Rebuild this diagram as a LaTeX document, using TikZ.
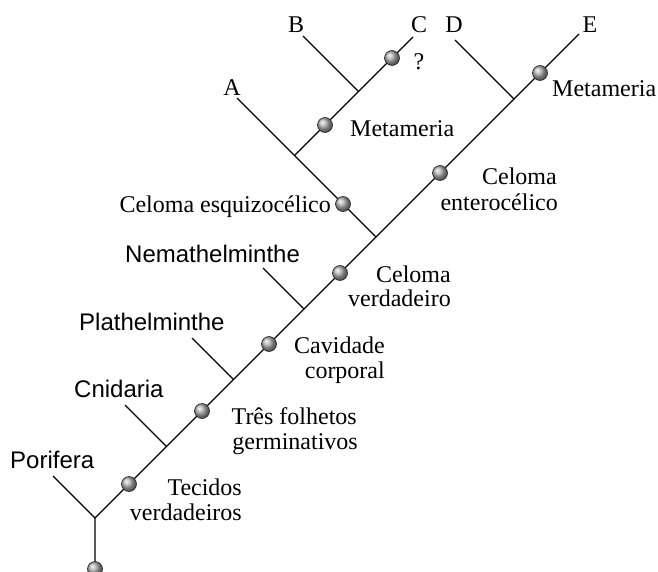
\documentclass[tikz,border=0pt]{standalone}
\usepackage{fontspec}
\setmainfont{Liberation Serif}
\newfontfamily\taxonfont{Liberation Sans}
\begin{document}
\begin{tikzpicture}[x=1pt,y=-1pt,
  branch/.style={line width=1.1pt},
  marker/.style={circle, inner sep=0pt, minimum size=15pt, draw=black!85, line width=0.6pt, shading=ball, ball color=gray!60},
  trait/.style={font=\fontsize{24}{26}\selectfont, inner sep=0pt},
  taxon/.style={font=\taxonfont\fontsize{24}{26}\selectfont, inner sep=0pt}]
\useasboundingbox (0,0) rectangle (658,572);
% junctions and ends
\coordinate (root) at (95,569);
\coordinate (j0) at (95,518);
\coordinate (por) at (53,476);
\coordinate (cni) at (125,405);
\coordinate (j1) at (166.5,446.5);
\coordinate (pla) at (192,338);
\coordinate (j2) at (233.5,379.5);
\coordinate (nem) at (263,268);
\coordinate (j3) at (304,309);
\coordinate (j4) at (376,237);
\coordinate (j5) at (514,99);
\coordinate (dd) at (455,40);
\coordinate (ee) at (579,34);
\coordinate (j6) at (294.5,155.5);
\coordinate (aa) at (237,98);
\coordinate (j7) at (358.5,91.5);
\coordinate (bb) at (303,36);
\coordinate (cc) at (413,37);
% branches
\draw[branch] (root) -- (j0) -- (j1) -- (j2) -- (j3) -- (j4) -- (j5) -- (ee);
\draw[branch] (por) -- (j0);
\draw[branch] (cni) -- (j1);
\draw[branch] (pla) -- (j2);
\draw[branch] (nem) -- (j3);
\draw[branch] (j4) -- (j6) -- (aa);
\draw[branch] (j6) -- (j7) -- (cc);
\draw[branch] (bb) -- (j7);
\draw[branch] (dd) -- (j5);
% markers
\node[marker] (m0) at (95,569) {};
\node[marker] (m1) at (129,484) {};
\node[marker] (m2) at (202,411) {};
\node[marker] (m3) at (269,344) {};
\node[marker] (m4) at (340,273) {};
\node[marker] (m5) at (343,204) {};
\node[marker] (m6) at (325,125) {};
\node[marker] (m7) at (392,58) {};
\node[marker] (m8) at (440,173) {};
\node[marker] (m9) at (540,73) {};
% taxa
\node[taxon, anchor=base west] (tpor) at (10,468) {Porifera};
\node[taxon, anchor=base west] (tcni) at (74,397) {Cnidaria};
\node[taxon, anchor=base west] (tpla) at (79,330) {Plathelminthe};
\node[taxon, anchor=base west] (tnem) at (125,262) {Nemathelminthe};
\node[trait, anchor=base] (ta) at (232,96) {A};
\node[trait, anchor=base] (tb) at (296,33) {B};
\node[trait, anchor=base] (tc) at (419,33) {C};
\node[trait, anchor=base] (td) at (454,33) {D};
\node[trait, anchor=base] (te) at (590,33) {E};
% traits
\node[trait, anchor=base] (tq) at (419,70) {?};
\node[trait, anchor=base west] (meta1) at (350,137) {Metameria};
\node[trait, anchor=base west] (meta2) at (552,97) {Metameria};
\node[trait, anchor=base east] (esq) at (331,212) {Celoma esquizocélico};
\node[trait, anchor=base east] (ent1) at (557,185) {Celoma};
\node[trait, anchor=base east] (ent2) at (558,210) {enterocélico};
\node[trait, anchor=base east] (ver1) at (451,282) {Celoma};
\node[trait, anchor=base east] (ver2) at (451,306) {verdadeiro};
\node[trait, anchor=base east] (cav1) at (385,353) {Cavidade};
\node[trait, anchor=base east] (cav2) at (385,378) {corporal};
\node[trait, anchor=base east] (tre1) at (357,424) {Três folhetos};
\node[trait, anchor=base east] (tre2) at (358,449) {germinativos};
\node[trait, anchor=base east] (tec1) at (242,495) {Tecidos};
\node[trait, anchor=base east] (tec2) at (242,520) {verdadeiros};
\end{tikzpicture}
\end{document}
